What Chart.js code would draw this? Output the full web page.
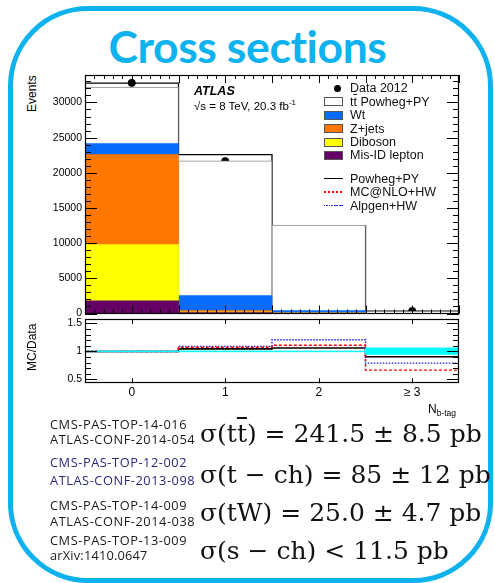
<!DOCTYPE html>
<html>
<head>
<meta charset="utf-8">
<script src="https://cdn.jsdelivr.net/npm/chart.js@4.4.1/dist/chart.umd.min.js"></script>
<style>
  html, body { margin: 0; padding: 0; background: #fff; }
  body { width: 495px; height: 583px; position: relative; overflow: hidden;
         font-family: "Liberation Sans", Arial, sans-serif; color: #000; }
  #slide { position: absolute; left: 8px; top: 6px; width: 475px; height: 567px;
           border: 5px solid #0db2ee; border-radius: 80px; }
  #title { position: absolute; left: 0; width: 495px; top: 17px; text-align: center;
           font-family: Lato, "Open Sans", sans-serif; font-weight: bold; font-size: 44.5px;
           letter-spacing: -0.4px; color: #0db2ee; line-height: 58px; }
  .box { position: absolute; }
  .lbl { position: absolute; white-space: nowrap; font-size: 12px; line-height: 14px; }
  .rot { position: absolute; white-space: nowrap; font-size: 12px; line-height: 14px;
         transform-origin: 0 0; transform: rotate(-90deg); }
  .ref { position: absolute; left: 50px; white-space: nowrap; font-family: "Open Sans", sans-serif;
         font-size: 12.8px; line-height: 15px; letter-spacing: 0.55px; color: #1a1a1a; }
  .ref.blue { color: #2a2a78; }
  .eq { position: absolute; left: 200px; white-space: nowrap; font-family: "DejaVu Serif", serif;
        font-size: 25px; line-height: 30px; color: #111; }
  .ov { text-decoration: overline; }
  #legend .row { position: absolute; left: 324px; height: 14px; font-size: 12.5px; line-height: 14px; white-space: nowrap; color: #111; }
  #legend .sym { position: absolute; left: 0; top: 0; width: 19px; height: 14px; }
  #legend .txt { position: absolute; left: 26px; top: 0; }
</style>
</head>
<body>
<div id="slide"></div>
<div id="title">Cross sections</div>

<div class="box" style="left:40px; top:70px; width:425px; height:250px;"><canvas id="main"></canvas></div>
<div class="box" style="left:40px; top:316px; width:425px; height:92px;"><canvas id="ratio"></canvas></div>

<div class="rot" style="left:25px; top:112px;">Events</div>
<div class="rot" style="left:25px; top:371px;">MC/Data</div>
<div class="lbl" style="left:194px; top:84px; font-weight:bold; font-style:italic; font-size:12.5px;">ATLAS</div>
<div class="lbl" style="left:194px; top:99px; font-size:11.5px;">√s = 8 TeV, 20.3 fb<sup style="font-size:8px; line-height:0;">-1</sup></div>
<div class="lbl" style="left:428px; top:402px; font-size:12px;">N<sub style="font-size:8.5px; line-height:0;">b-tag</sub></div>
<div id="legend"></div>

<div class="ref" style="top:417px;">CMS-PAS-TOP-14-016</div>
<div class="ref" style="top:432px;">ATLAS-CONF-2014-054</div>
<div class="ref blue" style="top:455px;">CMS-PAS-TOP-12-002</div>
<div class="ref blue" style="top:473px;">ATLAS-CONF-2013-098</div>
<div class="ref" style="top:498px;">CMS-PAS-TOP-14-009</div>
<div class="ref" style="top:514px;">ATLAS-CONF-2014-038</div>
<div class="ref" style="top:533px;">CMS-PAS-TOP-13-009</div>
<div class="ref" style="top:548px; letter-spacing:0.2px;">arXiv:1410.0647</div>

<div class="eq" style="top:419px;">σ(t<span class="ov">t</span>) = 241.5 ± 8.5 pb</div>
<div class="eq" style="top:460px;">σ(t − ch) = 85 ± 12 pb</div>
<div class="eq" style="top:498px;">σ(tW) = 25.0 ± 4.7 pb</div>
<div class="eq" style="top:536px;">σ(s − ch) &lt; 11.5 pb</div>

<script>
// b-tag multiplicity bins
const binCenters = [0, 1, 2, 3];
const binLabels = ['0', '1', '2', '≥ 3'];
const binEdges = [-0.5, 0.5, 1.5, 2.5, 3.5];

// Event yields per bin (stacked predictions)
const misIdLepton = [1800, 120, 30, 5];
const diboson = [8000, 80, 20, 2];
const zJets = [12790, 200, 40, 5];
const wt = [1550, 2140, 330, 28];
const ttbarPowheg = [8040, 19160, 12150, 280];

// Observed data and total prediction line
const data2012 = [32780, 21650, 11700, 350];
const powhegTotal = [32740, 22590, 12450, 320];

// MC/Data ratios
const ratioPowheg = [1.0, 1.045, 1.06, 0.905];
const ratioMcAtNlo = [1.0, 1.075, 1.11, 0.665];
const ratioAlpgen = [1.0, 1.09, 1.21, 0.79];
const bandLow = [0.995, 0.995, 0.995, 0.95];
const bandHigh = [1.005, 1.005, 1.005, 1.06];

// Axis tick values and labels
const eventTicks = [0, 5000, 10000, 15000, 20000, 25000, 30000];
const ratioTicks = [0.5, 1, 1.5];
const ratioTickLabels = ['0.5', '1', '1.5'];

const COL = { misid: '#660066', dib: '#ffff00', zj: '#ff7700', wt: '#0a6cff', tt: '#ffffff' };

// histogram helpers
const binPoints = arr => arr.map((v, i) => ({ x: binCenters[i], y: v }));
const stepPoints = arr => binEdges.map((e, i) => ({ x: e, y: arr[Math.min(i, arr.length - 1)] }));

// axes keep a fixed footprint so both panels line up
const fixWidth = s => { s.width = 45; s.paddingTop = 0; s.paddingBottom = 0; };
const fixHeight = h => s => { s.height = h; s.paddingLeft = 0; s.paddingRight = 0; };

// frame and inward ticks on all four sides, ROOT style
const frameTicks = {
  id: 'frameTicks',
  afterDatasetsDraw(chart, args, opts) {
    const { ctx, chartArea: a, scales } = chart;
    const sx = scales.x, sy = scales.y;
    ctx.save();
    ctx.strokeStyle = '#000';
    ctx.lineWidth = 1;
    const seg = (x1, y1, x2, y2) => { ctx.beginPath(); ctx.moveTo(x1, y1); ctx.lineTo(x2, y2); ctx.stroke(); };
    (opts.x || []).forEach(t => {
      for (let v = t.start; v <= sx.max + 1e-9; v += t.step) {
        const p = Math.round(sx.getPixelForValue(v)) + 0.5;
        seg(p, a.bottom, p, a.bottom - t.len);
        seg(p, a.top, p, a.top + t.len);
      }
    });
    (opts.y || []).forEach(t => {
      for (let v = t.start; v <= sy.max + 1e-9; v += t.step) {
        const p = Math.round(sy.getPixelForValue(v)) + 0.5;
        seg(a.left, p, a.left + t.len, p);
        seg(a.right, p, a.right - t.len, p);
      }
    });
    ctx.lineWidth = 1.2;
    ctx.strokeRect(Math.round(a.left) + 0.5, Math.round(a.top) + 0.5, Math.round(a.width) - 1, Math.round(a.height) - 1);
    ctx.restore();
  }
};

const tickFont = { family: '"Liberation Sans", Arial, sans-serif', size: 10.5 };
const fullBin = { stack: 'mc', categoryPercentage: 1, barPercentage: 1 };

// upper panel: stacked event yields
new Chart(document.getElementById('main'), {
  type: 'bar',
  plugins: [frameTicks],
  data: {
    datasets: [
      { label: 'Mis-ID lepton', data: binPoints(misIdLepton), backgroundColor: COL.misid, ...fullBin },
      { label: 'Diboson', data: binPoints(diboson), backgroundColor: COL.dib, ...fullBin },
      { label: 'Z+jets', data: binPoints(zJets), backgroundColor: COL.zj, ...fullBin },
      { label: 'Wt', data: binPoints(wt), backgroundColor: COL.wt, ...fullBin },
      { label: 'tt̄ Powheg+PY', data: binPoints(ttbarPowheg), backgroundColor: COL.tt, borderColor: '#8a8a8a', borderWidth: 1, ...fullBin },
      { type: 'line', label: 'Powheg+PY', data: stepPoints(powhegTotal), stack: 'pw', stepped: true, borderColor: '#000', borderWidth: 1.3, pointRadius: 0, fill: false },
      { type: 'scatter', label: 'Data 2012', data: binPoints(data2012), stack: 'data', pointRadius: 3.6, pointBackgroundColor: '#000', pointBorderColor: '#000' }
    ]
  },
  options: {
    animation: false, responsive: true, maintainAspectRatio: false,
    layout: { padding: { top: 3, right: 6, bottom: 6.5, left: 0 } },
    plugins: {
      legend: { display: false }, tooltip: { enabled: false },
      frameTicks: { x: [{ start: -0.5, step: 0.1, len: 4 }, { start: -0.5, step: 0.5, len: 8 }],
                    y: [{ start: 0, step: 1000, len: 6 }, { start: 0, step: 5000, len: 12 }] }
    },
    scales: {
      x: { type: 'linear', min: -0.5, max: 3.5, stacked: true, offset: false, display: false,
           afterBuildTicks: s => { s.ticks = binCenters.map(v => ({ value: v })); } },
      y: {
        type: 'linear', min: 0, max: 33900, stacked: true,
        grid: { display: false, drawTicks: false }, border: { display: false },
        afterBuildTicks: s => { s.ticks = eventTicks.map(v => ({ value: v })); },
        afterFit: fixWidth,
        ticks: { padding: 3, color: '#000', font: tickFont, callback: v => String(v) }
      }
    }
  }
});

// lower panel: MC/Data
new Chart(document.getElementById('ratio'), {
  type: 'line',
  plugins: [frameTicks],
  data: {
    datasets: [
      { label: 'band+', data: stepPoints(bandHigh), stepped: true, borderColor: '#00ffff', borderWidth: 1, pointRadius: 0, fill: false },
      { label: 'band-', data: stepPoints(bandLow), stepped: true, borderColor: '#00ffff', borderWidth: 1, pointRadius: 0, backgroundColor: '#00ffff', fill: '-1' },
      { label: 'MC@NLO+HW', data: stepPoints(ratioMcAtNlo), stepped: true, borderColor: '#ff0000', borderWidth: 1.4, borderDash: [3, 2], pointRadius: 0, fill: false },
      { label: 'Alpgen+HW', data: stepPoints(ratioAlpgen), stepped: true, borderColor: '#2020ff', borderWidth: 1.4, borderDash: [1.5, 1.5], pointRadius: 0, fill: false },
      { label: 'Powheg+PY', data: stepPoints(ratioPowheg), stepped: true, borderColor: '#000', borderWidth: 1.6, pointRadius: 0, fill: false }
    ]
  },
  options: {
    animation: false, responsive: true, maintainAspectRatio: false,
    layout: { padding: { top: 3, right: 6, bottom: 4.7, left: 0 } },
    plugins: {
      legend: { display: false }, tooltip: { enabled: false },
      frameTicks: { x: [{ start: 0, step: 1, len: 5 }],
                    y: [{ start: 0.5, step: 0.1, len: 6 }, { start: 0.5, step: 0.5, len: 12 }] }
    },
    scales: {
      x: {
        type: 'linear', min: -0.5, max: 3.5,
        grid: { display: false, drawTicks: false }, border: { display: false },
        afterBuildTicks: s => { s.ticks = binCenters.map(v => ({ value: v })); },
        afterFit: fixHeight(20),
        ticks: { padding: 2, color: '#000', font: { family: '"Liberation Sans", Arial, sans-serif', size: 12 },
                 maxRotation: 0, autoSkip: false, callback: (v) => binLabels[binCenters.indexOf(v)] }
      },
      y: {
        type: 'linear', min: 0.43, max: 1.58,
        grid: { display: false, drawTicks: false }, border: { display: false },
        afterBuildTicks: s => { s.ticks = ratioTicks.map(v => ({ value: v })); },
        afterFit: fixWidth,
        ticks: { padding: 3, color: '#000', font: tickFont, callback: v => ratioTickLabels[ratioTicks.indexOf(v)] }
      }
    }
  }
});

// legend of the upper panel
const legendRows = [
  { label: 'Data 2012', kind: 'dot', top: 81 },
  { label: 'tt̄ Powheg+PY', kind: 'box', color: COL.tt, top: 94.5, html: 't<span class="ov">t</span> Powheg+PY' },
  { label: 'Wt', kind: 'box', color: COL.wt, top: 108 },
  { label: 'Z+jets', kind: 'box', color: COL.zj, top: 121.5 },
  { label: 'Diboson', kind: 'box', color: COL.dib, top: 135 },
  { label: 'Mis-ID lepton', kind: 'box', color: COL.misid, top: 148 },
  { label: 'Powheg+PY', kind: 'line', color: '#000', on: 19, off: 0, top: 171.5 },
  { label: 'MC@NLO+HW', kind: 'line', color: '#ff0000', on: 2, off: 2, top: 185 },
  { label: 'Alpgen+HW', kind: 'line', color: '#2020ff', on: 1.5, off: 1, top: 198.5 }
];
const lg = document.getElementById('legend');
legendRows.forEach(r => {
  const row = document.createElement('div');
  row.className = 'row';
  row.style.top = r.top + 'px';
  const sym = document.createElement('div');
  sym.className = 'sym';
  if (r.kind === 'dot') {
    sym.innerHTML = '<div style="position:absolute;left:10px;top:3.5px;width:7px;height:7px;border-radius:50%;background:#000"></div>';
  } else if (r.kind === 'box') {
    sym.innerHTML = '<div style="position:absolute;left:0;top:2.5px;width:17px;height:7px;border:1px solid #555;background:' + r.color + '"></div>';
  } else {
    const bg = r.off ? 'repeating-linear-gradient(90deg,' + r.color + ' 0 ' + r.on + 'px, transparent ' + r.on + 'px ' + (r.on + r.off) + 'px)' : r.color;
    sym.innerHTML = '<div style="position:absolute;left:0;top:6px;width:19px;height:1.5px;background:' + bg + '"></div>';
  }
  const txt = document.createElement('div');
  txt.className = 'txt';
  if (r.html) txt.innerHTML = r.html; else txt.textContent = r.label;
  row.appendChild(sym);
  row.appendChild(txt);
  lg.appendChild(row);
});
</script>
</body>
</html>
